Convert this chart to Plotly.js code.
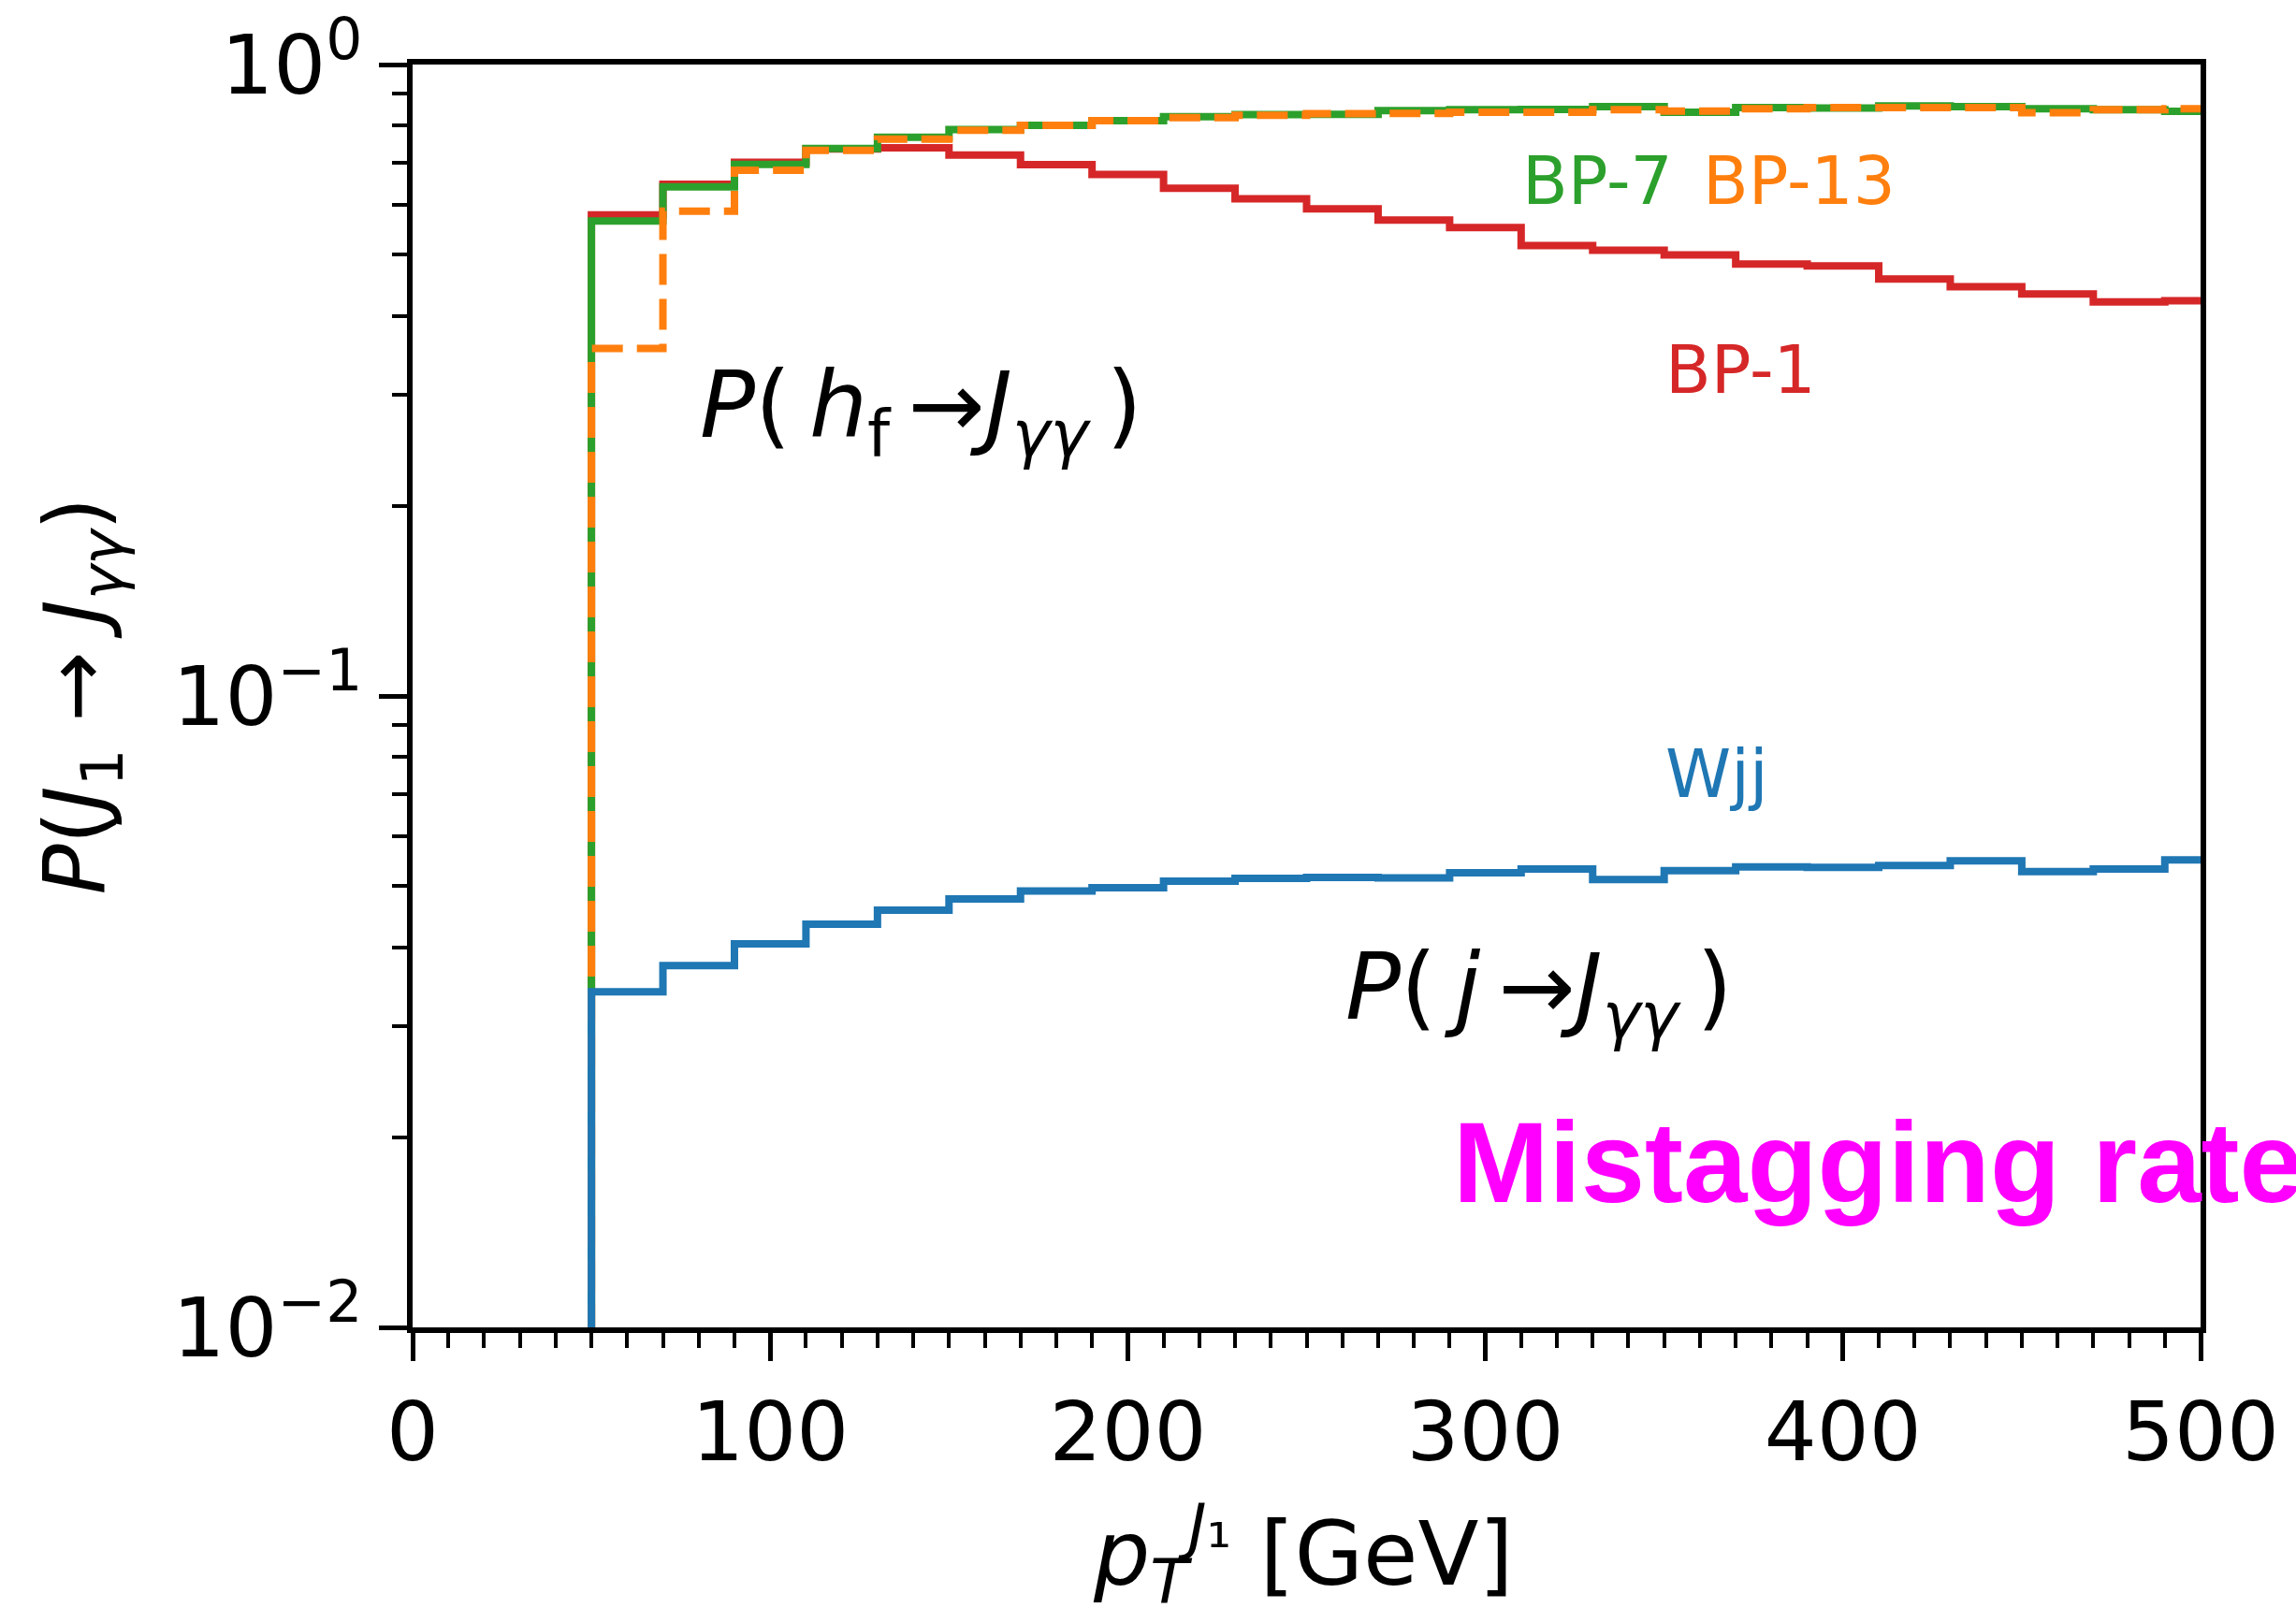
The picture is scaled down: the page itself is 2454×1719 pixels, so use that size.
<!DOCTYPE html>
<html>
<head>
<meta charset="utf-8">
<script src="https://cdn.plot.ly/plotly-3.0.1.min.js"></script>
<style>
  html, body { margin: 0; padding: 0; background: #ffffff; }
  #chart { width: 2454px; height: 1719px; }
</style>
</head>
<body>
<div id="chart"></div>
<script>
// ---- Data ----
// Histogram bin edges in pT [GeV]
const binEdges = [50, 70, 90, 110, 130, 150, 170, 190, 210, 230, 250, 270, 290, 310, 330, 350, 370, 390, 410, 430, 450, 470, 490, 510];

// Wjj: P(j -> J_gammagamma)
const wjj = [0.0340, 0.0374, 0.0405, 0.0435, 0.0458, 0.0477, 0.0491, 0.0497, 0.0509, 0.0514, 0.0516, 0.0515,
             0.0525, 0.0532, 0.0512, 0.0529, 0.0536, 0.0535, 0.0539, 0.0548, 0.0527, 0.0532, 0.0550];
// BP-1
const bp1 = [0.578, 0.646, 0.700, 0.735, 0.738, 0.719, 0.694, 0.670, 0.637, 0.613, 0.591, 0.567,
             0.552, 0.517, 0.508, 0.4995, 0.483, 0.480, 0.4575, 0.4446, 0.433, 0.4207, 0.4227];
// BP-7
const bp7 = [0.565, 0.640, 0.695, 0.736, 0.767, 0.789, 0.801, 0.815, 0.827, 0.833, 0.834, 0.845,
             0.848, 0.849, 0.858, 0.840, 0.855, 0.853, 0.860, 0.858, 0.851, 0.848, 0.843];
// BP-13
const bp13 = [0.355, 0.586, 0.680, 0.731, 0.762, 0.787, 0.801, 0.815, 0.824, 0.831, 0.836, 0.837,
              0.840, 0.840, 0.848, 0.844, 0.851, 0.855, 0.855, 0.855, 0.839, 0.848, 0.851];

const yTickVals = [0.01, 0.1, 1];
const yTickText = ["10<sup>−2</sup>", "10<sup>−1</sup>", "10<sup>0</sup>"];
const xTickVals = [0, 100, 200, 300, 400, 500];

// step-histogram outline (like matplotlib histtype='step'): starts from zero (off the log axis)
const FLOOR = 1e-5;
function stepTrace(vals, color, dash, name) {
  const x = [binEdges[0]];
  const y = [FLOOR];
  for (let i = 0; i < vals.length; i++) {
    x.push(binEdges[i]); y.push(vals[i]);
  }
  x.push(binEdges[binEdges.length - 1]); y.push(vals[vals.length - 1]);
  x.push(binEdges[binEdges.length - 1]); y.push(FLOOR);
  return {
    type: 'scatter', mode: 'lines', name: name, x: x, y: y,
    line: { shape: 'hv', color: color, width: 8, dash: dash },
    hoverinfo: 'skip'
  };
}

const C_BLUE = '#1f77b4', C_ORANGE = '#ff7f0e', C_GREEN = '#2ca02c', C_RED = '#d62728';

const traces = [
  stepTrace(bp1, C_RED, 'solid', 'BP-1'),
  stepTrace(bp7, C_GREEN, 'solid', 'BP-7'),
  stepTrace(bp13, C_ORANGE, '33px,15px', 'BP-13'),
  stepTrace(wjj, C_BLUE, 'solid', 'Wjj')
];

// minor ticks for log y axis: 2..9 x 10^k
const yMinor = [];
[0.01, 0.1].forEach(d => { for (let k = 2; k <= 9; k++) yMinor.push(k * d); });

const FONT = 'DejaVu Sans';
const TS = '\u2009'; // thin space

const layout = {
  width: 2454, height: 1719,
  margin: { l: 441, r: 102, t: 69, b: 300, pad: 0 },
  paper_bgcolor: '#ffffff', plot_bgcolor: '#ffffff',
  showlegend: false,
  font: { family: FONT, color: '#000000' },
  xaxis: {
    range: [0, 500], tickmode: 'array', tickvals: xTickVals,
    ticks: 'outside', ticklen: 30, tickwidth: 5, tickcolor: '#000',
    showline: true, linewidth: 6, linecolor: '#000', mirror: true,
    showgrid: false, zeroline: false,
    tickfont: { family: FONT, size: 88, color: '#000' },
    minor: { dtick: 10, ticks: 'outside', ticklen: 16, tickwidth: 4, tickcolor: '#000', showgrid: false },
    automargin: false
  },
  yaxis: {
    type: 'log', range: [-2, 0], tickmode: 'array', tickvals: yTickVals, ticktext: yTickText,
    ticks: 'outside', ticklen: 30, tickwidth: 5, tickcolor: '#000',
    showline: true, linewidth: 6, linecolor: '#000', mirror: true,
    showgrid: false, zeroline: false,
    tickfont: { family: FONT, size: 88, color: '#000' },
    minor: { tickmode: 'array', tickvals: yMinor, ticks: 'outside', ticklen: 16, tickwidth: 4, tickcolor: '#000', showgrid: false },
    title: { text: '<i>P</i>(<i>J</i><sub>1</sub> → <i>J</i><sub><i>γγ</i></sub>)', font: { family: FONT, size: 90, color: '#000' }, standoff: 44 },
    automargin: false
  },
  annotations: [
    // x-axis title
    { xref: 'paper', yref: 'paper', x: 0.498, y: -0.179, xanchor: 'center', yanchor: 'middle', showarrow: false,
      text: '<i>p</i><sub><i>T</i></sub><sup><i>J</i>₁</sup> [GeV]', font: { family: FONT, size: 95, color: '#000' } },
    { xref: 'paper', yref: 'paper', x: 0.663, y: 0.908, xanchor: 'center', yanchor: 'middle', showarrow: false,
      text: 'BP-7', font: { family: FONT, size: 71, color: C_GREEN } },
    { xref: 'paper', yref: 'paper', x: 0.7755, y: 0.908, xanchor: 'center', yanchor: 'middle', showarrow: false,
      text: 'BP-13', font: { family: FONT, size: 71, color: C_ORANGE } },
    { xref: 'paper', yref: 'paper', x: 0.743, y: 0.758, xanchor: 'center', yanchor: 'middle', showarrow: false,
      text: 'BP-1', font: { family: FONT, size: 71, color: C_RED } },
    { xref: 'paper', yref: 'paper', x: 0.7295, y: 0.4385, xanchor: 'center', yanchor: 'middle', showarrow: false,
      text: 'Wjj', font: { family: FONT, size: 71, color: C_BLUE } },
    { xref: 'paper', yref: 'paper', x: 0.1595, y: 0.725, xanchor: 'left', yanchor: 'middle', showarrow: false,
      text: '<i>P</i>(' + TS + '<i>h</i><sub>f</sub>' + TS + '→<i>J</i><sub><i>γγ</i></sub>' + TS + ')', font: { family: FONT, size: 98, color: '#000' } },
    { xref: 'paper', yref: 'paper', x: 0.5205, y: 0.2644, xanchor: 'left', yanchor: 'middle', showarrow: false,
      text: '<i>P</i>(' + TS + '<i>j</i>' + TS + '→<i>J</i><sub><i>γγ</i></sub>' + TS + ')', font: { family: FONT, size: 98, color: '#000' } },
    { xref: 'paper', yref: 'paper', x: 0.5810, y: 0.1310, xanchor: 'left', yanchor: 'middle', showarrow: false,
      text: '<b>Mistagging rate</b>', font: { family: 'Liberation Sans', size: 123, color: '#ff00ff' } }
  ]
};

Plotly.newPlot('chart', traces, layout, { staticPlot: true, displayModeBar: false });
</script>
</body>
</html>
